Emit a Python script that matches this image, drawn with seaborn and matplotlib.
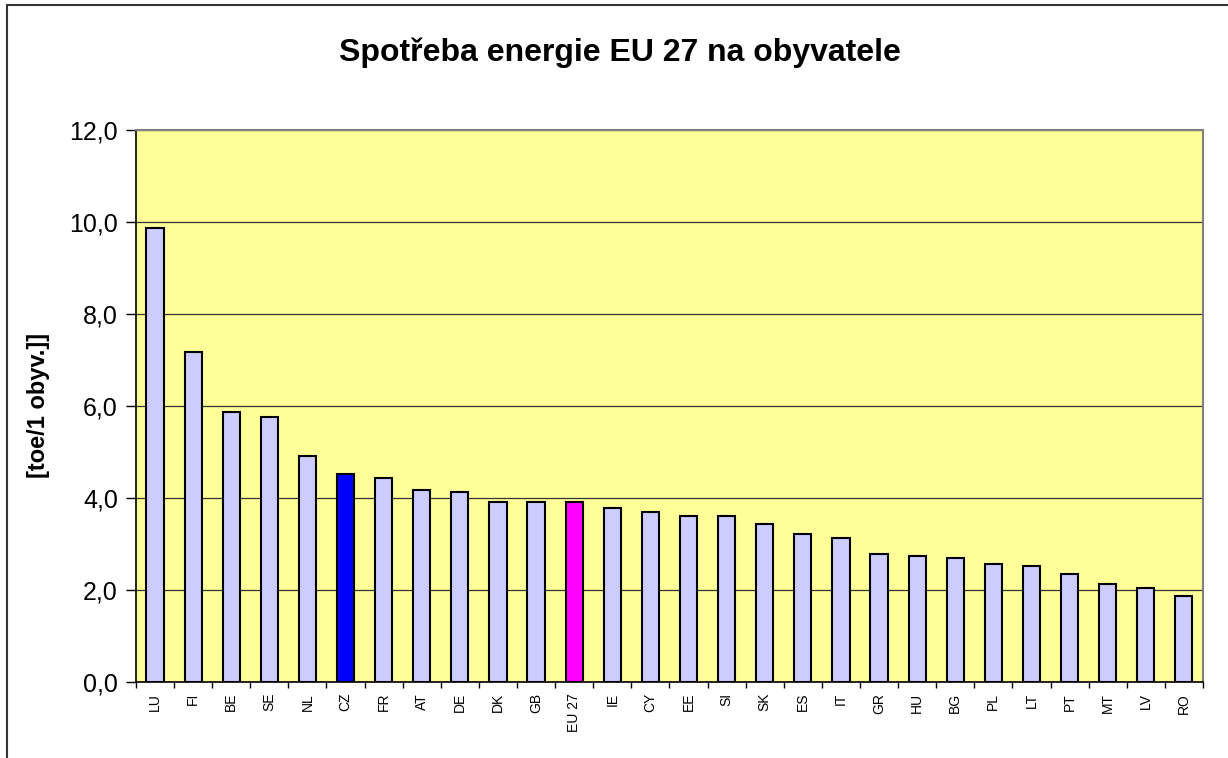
import matplotlib
matplotlib.use('Agg')
import matplotlib.pyplot as plt
import seaborn as sns
import numpy as np
from matplotlib.ticker import FixedLocator, FuncFormatter
from matplotlib.lines import Line2D

countries = ['LU', 'FI', 'BE', 'SE', 'NL', 'CZ', 'FR', 'AT', 'DE', 'DK', 'GB', 'EU 27',
             'IE', 'CY', 'EE', 'SI', 'SK', 'ES', 'IT', 'GR', 'HU', 'BG', 'PL', 'LT',
             'PT', 'MT', 'LV', 'RO']
values = [9.87, 7.17, 5.86, 5.75, 4.91, 4.52, 4.43, 4.17, 4.13, 3.91, 3.91, 3.91,
          3.78, 3.70, 3.61, 3.61, 3.43, 3.22, 3.13, 2.78, 2.74, 2.70, 2.57, 2.52,
          2.35, 2.13, 2.04, 1.87]
highlight = {'CZ': '#0000FF', 'EU 27': '#FF00FF'}
base_color = '#CCCCFF'

sns.set_theme(style='white')
plt.rcParams['font.family'] = ['Liberation Sans', 'DejaVu Sans']
plt.rcParams['text.color'] = 'black'
plt.rcParams['axes.labelcolor'] = 'black'
plt.rcParams['xtick.color'] = 'black'
plt.rcParams['ytick.color'] = 'black'

fig = plt.figure(figsize=(12.28, 7.58), dpi=100)
ax = fig.add_axes([0.1107, 0.1007, 0.9796 - 0.1107, 0.8285 - 0.1007])

palette = {c: highlight.get(c, base_color) for c in countries}
sns.barplot(x=countries, y=values, hue=countries, palette=palette, legend=False,
            width=0.45, edgecolor='black', linewidth=1.5, saturation=1, ax=ax, zorder=3)

ax.set_facecolor('#FFFF99')
ax.set_xlim(-0.5, len(countries) - 0.5)
ax.set_ylim(0, 12)
ax.set_yticks(np.arange(0, 12.1, 2))
ax.yaxis.set_major_formatter(FuncFormatter(lambda v, p: f'{v:.1f}'.replace('.', ',')))
ax.tick_params(axis='y', labelsize=18, length=7, width=1, color='black',
               direction='out', left=True, pad=6)
ax.grid(axis='y', color='#333333', linewidth=0.9, zorder=0)
ax.set_axisbelow(True)

ax.set_xticks(range(len(countries)))
ax.set_xticklabels(countries, rotation=90, fontsize=10)
ax.tick_params(axis='x', which='major', length=0, pad=8)
ax.xaxis.set_minor_locator(FixedLocator(np.arange(-0.5, len(countries), 1)))
ax.tick_params(axis='x', which='minor', length=4, width=1, color='black',
               direction='out', bottom=True)

for side in ['top', 'right']:
    ax.spines[side].set_color('#808080')
    ax.spines[side].set_linewidth(1.5)
for side in ['left', 'bottom']:
    ax.spines[side].set_color('black')
    ax.spines[side].set_linewidth(1.2)

ax.set_xlabel('')
ax.set_ylabel('[toe/1 obyv.]]', fontsize=17, fontweight='bold', labelpad=14)

fig.text(0.505, 0.931, 'Spotřeba energie EU 27 na obyvatele', ha='center', va='center',
         fontsize=23, fontweight='bold')

# outer chart border (only top and left visible)
fig.add_artist(Line2D([7 / 1228, 7 / 1228], [0, 1 - 5 / 758], transform=fig.transFigure,
                      color='#333333', linewidth=1.5))
fig.add_artist(Line2D([7 / 1228, 1], [1 - 5 / 758, 1 - 5 / 758], transform=fig.transFigure,
                      color='#333333', linewidth=1.5))

fig.savefig('out.png', dpi=100)
